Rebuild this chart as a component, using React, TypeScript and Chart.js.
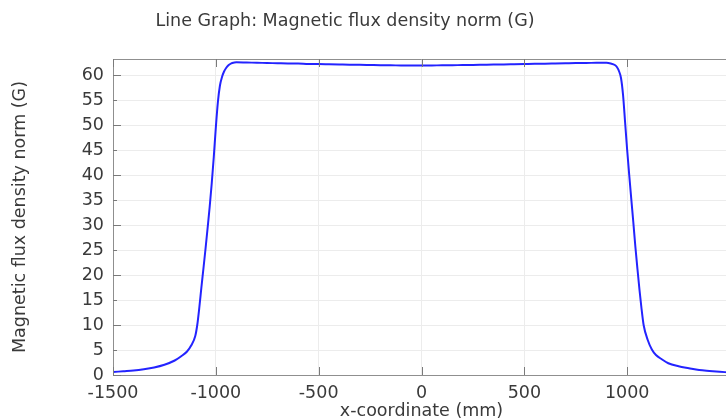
import React, { useEffect, useRef } from "react";
import { Chart, registerables } from "chart.js";

Chart.register(...registerables);

const TITLE = "Line Graph: Magnetic flux density norm (G)";
const X_TITLE = "x-coordinate (mm)";
const Y_TITLE = "Magnetic flux density norm (G)";

const yTickValues = [0, 5, 10, 15, 20, 25, 30, 35, 40, 45, 50, 55, 60];
const xTickLabels = ["-1500", "-1000", "-500", "0", "500", "1000"];

const xCoords = [
  -1500, -1450, -1400, -1350, -1300, -1250, -1200, -1170, -1140, -1120, -1100, -1090, -1080, -1070,
  -1060, -1050, -1040, -1030, -1020, -1010, -1000, -990, -980, -970, -960, -950, -940, -930, -920,
  -900, -850, -800, -750, -700, -650, -600, -550, -500, -450, -400, -350, -300, -250, -200, -150,
  -100, -50, 0, 50, 100, 150, 200, 250, 300, 350, 400, 450, 500, 550, 600, 650, 700, 750, 800, 850,
  900, 920, 940, 950, 960, 970, 980, 990, 1000, 1010, 1020, 1030, 1040, 1050, 1060, 1070, 1080,
  1100, 1120, 1140, 1170, 1200, 1250, 1300, 1350, 1400, 1450, 1500,
];

const fluxNorm = [
  0.6, 0.75, 0.9, 1.15, 1.5, 2.05, 2.9, 3.7, 4.7, 5.9, 7.8, 10.1, 13.6, 17.6,
  21.4, 25.3, 29.4, 33.6, 38.3, 43.6, 49.5, 54.6, 57.9, 59.6, 60.7, 61.4, 61.9, 62.2, 62.4,
  62.55, 62.5, 62.45, 62.4, 62.35, 62.3, 62.3, 62.2, 62.2, 62.15, 62.1, 62.05, 62.05, 62.0, 61.95, 61.95,
  61.9, 61.9, 61.9, 61.9, 61.95, 61.95, 62.0, 62.0, 62.05, 62.1, 62.1, 62.15, 62.2, 62.25, 62.25, 62.3, 62.35, 62.4, 62.4, 62.45,
  62.45, 62.3, 62.0, 61.6, 60.8, 59.4, 56.0, 50.5, 45.0, 40.0, 35.2, 30.5, 25.6, 21.2, 17.0, 13.2, 10.0,
  7.0, 5.1, 4.0, 3.1, 2.35, 1.75, 1.35, 0.98, 0.8, 0.65, 0.5,
];

const FONT = "'DejaVu Sans', sans-serif";
const FS = 17.5;

const framePlugin = {
  id: "frame",
  afterDraw(chart: any) {
    const { ctx, chartArea } = chart;
    const { left, right, top, bottom } = chartArea;
    ctx.save();
    ctx.strokeStyle = "#8f8f8f";
    ctx.lineWidth = 1;
    ctx.beginPath();
    ctx.moveTo(left, top + 0.5);
    ctx.lineTo(right, top + 0.5);
    ctx.stroke();
    const xs = chart.scales.x;
    const ys = chart.scales.y;
    ctx.strokeStyle = "#7a7a7a";
    ctx.beginPath();
    xs.ticks.forEach((t: any) => {
      const px = Math.round(xs.getPixelForValue(t.value)) + 0.5;
      ctx.moveTo(px, bottom);
      ctx.lineTo(px, bottom - 8);
      ctx.moveTo(px, top);
      ctx.lineTo(px, top + 8);
    });
    ys.ticks.forEach((t: any) => {
      const py = Math.round(ys.getPixelForValue(t.value)) + 0.5;
      const len = t.value % 10 === 0 ? 8 : 4;
      ctx.moveTo(left, py);
      ctx.lineTo(left + len, py);
    });
    ctx.stroke();
    ctx.fillStyle = "#3a3a3a";
    ctx.font = FS + "px " + FONT;
    ctx.textAlign = "center";
    ctx.textBaseline = "middle";
    ctx.fillText(TITLE, 345, 21);
    ctx.restore();
  },
};

export default function App() {
  const ref = useRef<HTMLCanvasElement | null>(null);

  useEffect(() => {
    if (!ref.current) return;
    const data = xCoords.map((x, i) => ({ x, y: fluxNorm[i] }));
    const chart = new Chart(ref.current, {
      type: "line",
      data: {
        datasets: [
          {
            data,
            borderColor: "#2323ff",
            borderWidth: 2,
            pointRadius: 0,
            fill: false,
            cubicInterpolationMode: "monotone",
          },
        ],
      },
      options: {
        animation: false,
        responsive: false,
        maintainAspectRatio: false,
        layout: { padding: { top: 59, right: 20, left: 0, bottom: 0 } },
        plugins: { legend: { display: false }, tooltip: { enabled: false } },
        scales: {
          x: {
            type: "linear",
            min: -1500,
            max: 1500,
            afterFit: (s: any) => {
              s.height = 55;
              s.paddingLeft = 0;
              s.paddingRight = 0;
            },
            ticks: {
              stepSize: 500,
              padding: 8,
              color: "#3a3a3a",
              font: { family: FONT, size: FS },
              callback: (v: any) => (xTickLabels.includes(String(v)) ? String(v) : ""),
            },
            grid: { color: "#ececec", drawTicks: false },
            border: { display: true, color: "#8f8f8f" },
            title: {
              display: true,
              text: X_TITLE,
              color: "#3a3a3a",
              font: { family: FONT, size: FS },
              padding: { top: 0, bottom: 8 },
            },
          },
          y: {
            type: "linear",
            min: 0,
            max: 63.2,
            afterFit: (s: any) => {
              s.width = 113;
            },
            afterBuildTicks: (s: any) => {
              s.ticks = yTickValues.map((v) => ({ value: v }));
            },
            ticks: {
              autoSkip: false,
              padding: 9,
              color: "#3a3a3a",
              font: { family: FONT, size: FS },
              callback: (v: any) => String(v),
            },
            grid: { color: "#ececec", drawTicks: false },
            border: { display: true, color: "#8f8f8f" },
            title: {
              display: true,
              text: Y_TITLE,
              color: "#3a3a3a",
              font: { family: FONT, size: FS },
              padding: { top: 10, bottom: 0 },
            },
          },
        },
      },
      plugins: [framePlugin],
    });
    return () => chart.destroy();
  }, []);

  return (
    <div
      style={{
        position: "fixed",
        left: 0,
        top: 0,
        width: 726,
        height: 419,
        overflow: "hidden",
        background: "#fff",
      }}
    >
      <canvas ref={ref} width={750} height={430} style={{ display: "block", width: 750, height: 430 }} />
    </div>
  );
}
